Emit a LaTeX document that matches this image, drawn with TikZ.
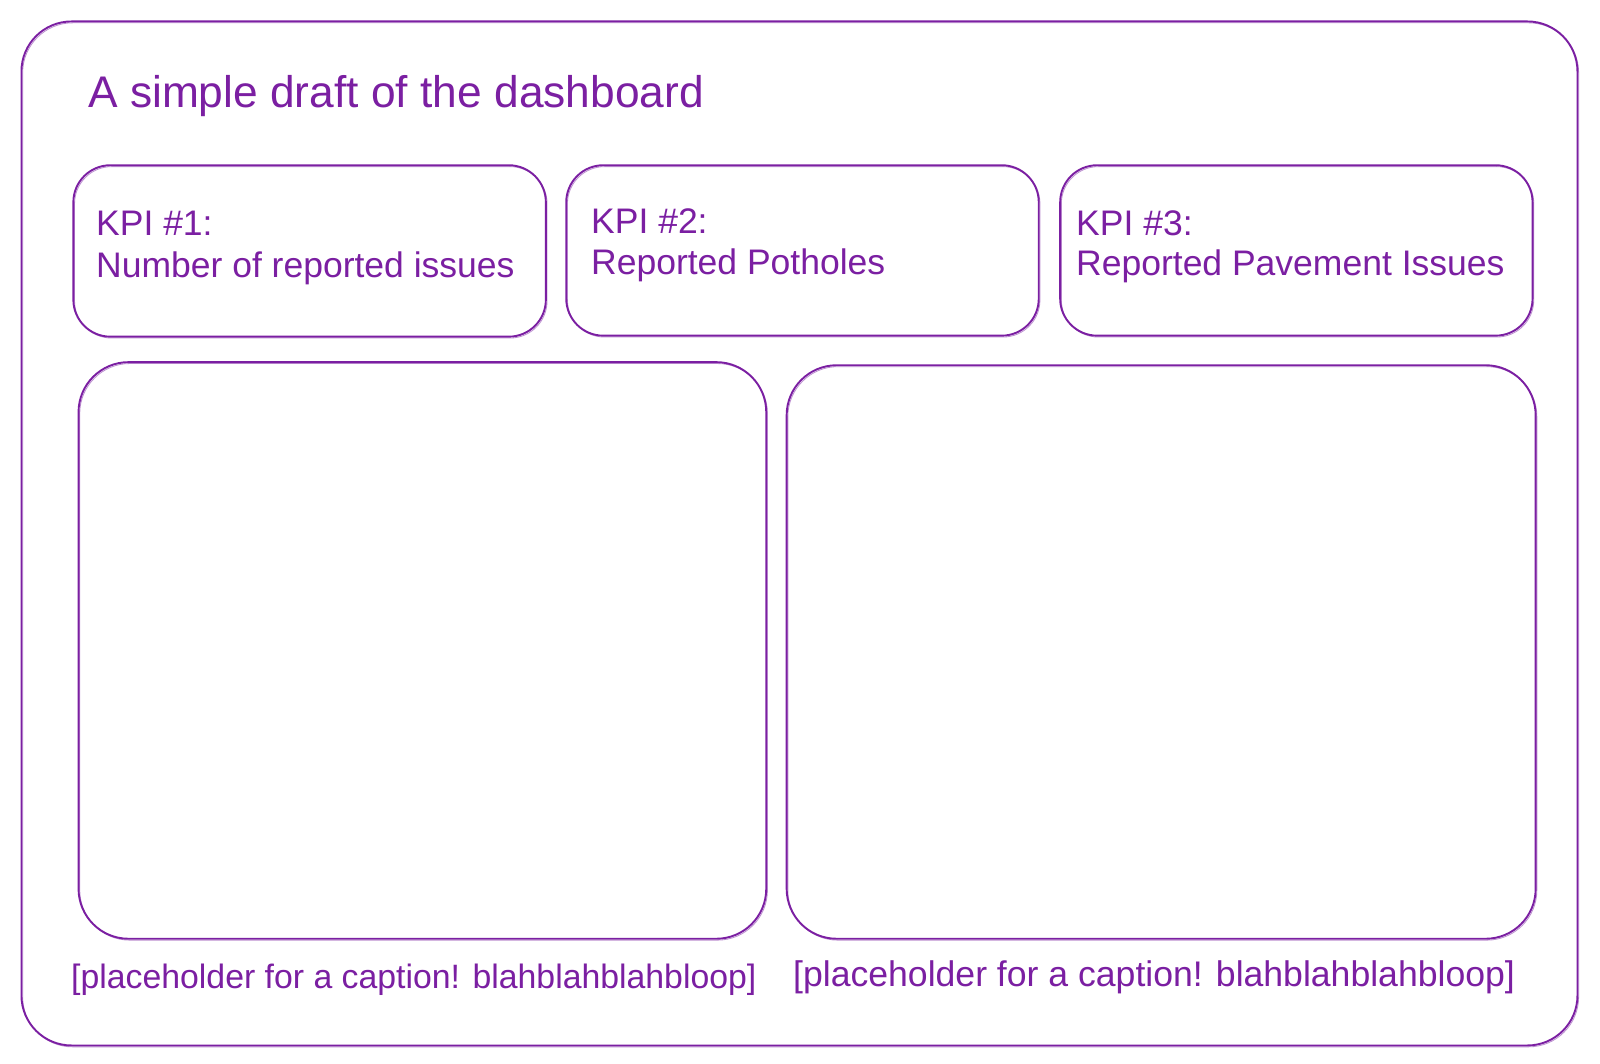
\documentclass[tikz,border=0pt]{standalone}
\usepackage{fontspec}
\setmainfont{Liberation Sans}
\definecolor{ink}{HTML}{7B1FA2}
\begin{document}
\begin{tikzpicture}[x=1pt,y=-1pt,
  sketch/.style={draw=ink,line width=1.9pt,rounded corners=#1,
    postaction={draw=ink,line width=0.8pt,opacity=0.5,rounded corners=#1,transform canvas={shift={(1.2pt,-1.4pt)}}}},
  sketch/.default=40pt,
  box/.style={sketch=#1,inner sep=0pt,anchor=north west},
  lbl/.style={text=ink,inner sep=0pt,anchor=base west},
  kpi/.style={lbl,font=\fontsize{35.5}{42}\selectfont},
  captxt/.style={lbl,font=\fontsize{#1}{40}\selectfont},
  captxt/.default=34]
\useasboundingbox[fill=white] (0,0) rectangle (1600,1064);
% outer frame
\node[box=50pt,minimum width=1556pt,minimum height=1024pt] (frame) at (20.5,20.5) {};
\node[lbl,font=\fontsize{44.3}{50}\selectfont] (title) at (88,108) {A simple draft of the dashboard};
% KPI boxes
\node[box=37pt,minimum width=472.5pt,minimum height=171.4pt] (k1) at (72.4,164.3) {};
\node[box=37pt,minimum width=472.5pt,minimum height=170.4pt] (k2) at (565.3,164.3) {};
\node[box=37pt,minimum width=472.4pt,minimum height=170.4pt] (k3) at (1059.2,164.3) {};
\node[kpi] (t1a) at (96,236) {KPI \#1:};
\node[kpi] (t1b) at (96,278) {Number of reported issues};
\node[kpi] (t2a) at (591,234) {KPI \#2:};
\node[kpi] (t2b) at (591,275) {Reported Potholes};
\node[kpi] (t3a) at (1076,236) {KPI \#3:};
\node[kpi] (t3b) at (1076,276) {Reported Pavement Issues};
% chart boxes
\node[box=50pt,minimum width=687.7pt,minimum height=576.6pt] (c1) at (77.6,361.2) {};
\node[box=50pt,minimum width=749pt,minimum height=573.5pt] (c2) at (785.7,364.3) {};
\node[captxt=33.8] (cap1) at (71,988) {[placeholder for a caption! blahblahblahbloop]};
\node[captxt=35.6] (cap2) at (793,986) {[placeholder for a caption! blahblahblahbloop]};
\end{tikzpicture}
\end{document}
